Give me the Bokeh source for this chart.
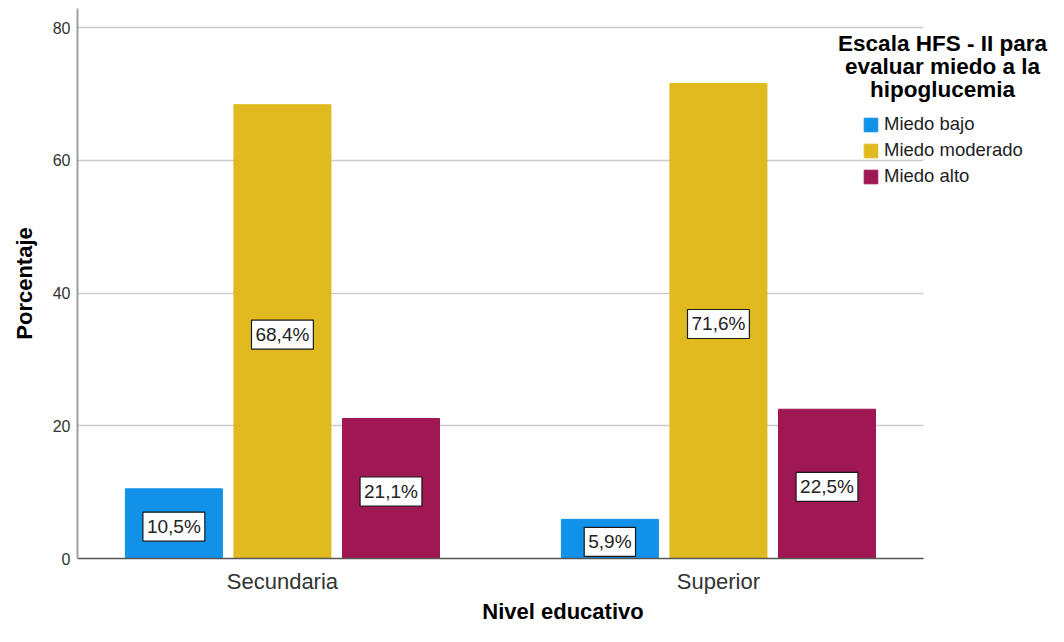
from bokeh.plotting import figure
from bokeh.models import (Range1d, FixedTicker, Label, Legend, LegendItem,
                          ColumnDataSource, BoxAnnotation)
from bokeh.embed import file_html
from bokeh.resources import INLINE

# ---- data ----
categories = ["Secundaria", "Superior"]
series_names = ["Miedo bajo", "Miedo moderado", "Miedo alto"]
miedo_bajo = [10.5, 5.9]
miedo_moderado = [68.4, 71.6]
miedo_alto = [21.1, 22.5]
y_ticks = [0, 20, 40, 60, 80]
legend_title_lines = ["Escala HFS - II para", "evaluar miedo a la", "hipoglucemia"]
x_title = "Nivel educativo"
y_title = "Porcentaje"

# ---- style ----
colors = ["#1192e8", "#e0ba1f", "#9f1853"]
FONT = "Liberation Sans"
X_START, X_AXIS_END, X_END = 0.03, 1.97, 2.257

p = figure(width=1048, height=626, output_backend="svg", toolbar_location=None,
           x_range=Range1d(X_START, X_END), y_range=Range1d(0, 82.9),
           min_border_left=77, min_border_right=0, min_border_top=8,
           min_border_bottom=67)
p.outline_line_color = None
p.background_fill_color = "white"
p.border_fill_color = "white"

series = [miedo_bajo, miedo_moderado, miedo_alto]
offsets = [-0.249, 0.0, 0.249]
bar_w = 0.2225
items = []
for name, vals, off, col in zip(series_names, series, offsets, colors):
    xs = [i + 0.5 + off for i in range(len(categories))]
    src = ColumnDataSource(dict(x=xs, top=vals))
    r = p.vbar(x="x", top="top", width=bar_w, bottom=0, source=src,
               fill_color=col, line_color=col)
    items.append(LegendItem(label=name, renderers=[r]))
    for x, v in zip(xs, vals):
        lab = Label(x=x, y=v / 2, text=f"{v:.1f}".replace(".", ",") + "%",
                    text_align="center", text_baseline="middle",
                    text_font=FONT, text_font_size="19px", text_color="#222222",
                    background_fill_color="white", border_line_color="#1a1a1a",
                    border_line_width=1.2, padding=4, y_offset=-3)
        p.add_layout(lab)

# axes
p.xaxis.ticker = FixedTicker(ticks=[i + 0.5 for i in range(len(categories))])
p.xaxis.major_label_overrides = {i + 0.5: c for i, c in enumerate(categories)}
p.xaxis.bounds = (X_START, X_AXIS_END)
p.xaxis.axis_line_color = "#555555"
p.xaxis.axis_line_width = 1.5
p.xaxis.major_tick_line_color = None
p.xaxis.minor_tick_line_color = None
p.xaxis.major_tick_out = 0
p.xaxis.major_label_text_font = FONT
p.xaxis.major_label_text_font_size = "22px"
p.xaxis.major_label_text_color = "#333333"
p.xaxis.major_label_standoff = 10
p.xaxis.axis_label = x_title
p.xaxis.axis_label_text_font = FONT
p.xaxis.axis_label_text_font_style = "bold"
p.xaxis.axis_label_text_font_size = "22px"
p.xaxis.axis_label_text_color = "#000000"
p.xaxis.axis_label_standoff = 2

p.yaxis.ticker = FixedTicker(ticks=y_ticks)
p.yaxis.axis_line_color = "#a0a0a0"
p.yaxis.axis_line_width = 2
p.yaxis.major_tick_line_color = None
p.yaxis.minor_tick_line_color = None
p.yaxis.major_tick_out = 0
p.yaxis.major_label_text_font = FONT
p.yaxis.major_label_text_font_size = "16px"
p.yaxis.major_label_text_color = "#333333"
p.yaxis.major_label_standoff = 7
p.yaxis.axis_label = y_title
p.yaxis.axis_label_text_font = FONT
p.yaxis.axis_label_text_font_style = "bold"
p.yaxis.axis_label_text_font_size = "22px"
p.yaxis.axis_label_text_color = "#000000"
p.yaxis.axis_label_standoff = 13

p.xgrid.visible = False
p.ygrid.grid_line_color = "#cccccc"
p.ygrid.grid_line_width = 1.5

# white mask so the grid stops where the reference's plot area ends
p.add_layout(BoxAnnotation(left=X_AXIS_END, fill_color="white", fill_alpha=1.0,
                           line_color=None, level="underlay"))

# legend title (three lines)
for k, line in enumerate(legend_title_lines):
    p.add_layout(Label(x=865, y=515 - 23 * k, x_units="screen", y_units="screen",
                       text=line, text_align="center", text_baseline="alphabetic",
                       text_font=FONT, text_font_style="bold",
                       text_font_size="22.5px", text_color="#000000"))

legend = Legend(items=items, location=(785, 371), orientation="vertical",
                border_line_color=None, background_fill_alpha=0,
                padding=0, margin=0, spacing=4,
                glyph_width=17, glyph_height=17, label_height=17,
                label_standoff=5, label_text_font=FONT,
                label_text_font_size="18.5px", label_text_color="#222222")
p.add_layout(legend)

open("out.html", "w").write(file_html(p, INLINE))
